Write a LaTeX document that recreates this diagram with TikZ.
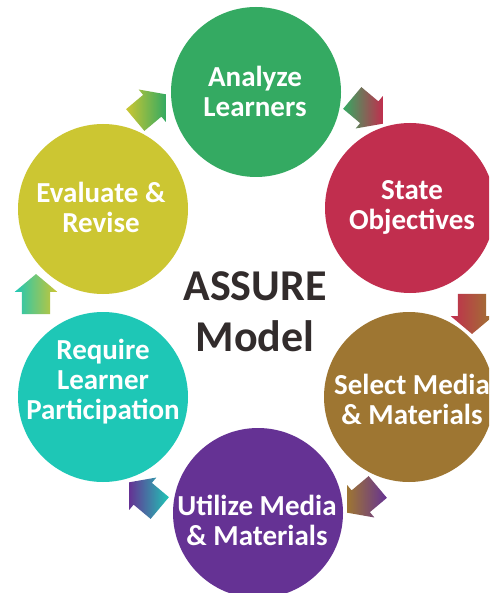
\documentclass[tikz,border=0pt]{standalone}
\usepackage{fontspec}
\setmainfont{Carlito}
\usetikzlibrary{shapes.arrows}

\definecolor{analyzegreen}{RGB}{52,170,98}
\definecolor{statered}{RGB}{193,46,78}
\definecolor{selectbrown}{RGB}{158,118,50}
\definecolor{utilizepurple}{RGB}{101,50,148}
\definecolor{requireteal}{RGB}{30,199,182}
\definecolor{reviseyellow}{RGB}{204,198,50}
\definecolor{modelgray}{RGB}{50,44,44}

\begin{document}
\begin{tikzpicture}[x=1pt,y=-1pt,
    stage/.style={circle,fill=#1,minimum size=170pt,inner sep=0pt},
    stage text/.style={text=white,align=center,font=\fontsize{29}{30}\selectfont\bfseries},
    turn arrow/.style 2 args={single arrow,draw=none,left color=#1,right color=#2,
        minimum height=40pt,inner xsep=0pt,inner ysep=14pt,single arrow head extend=7pt,
        single arrow tip angle=100}]
    \clip (0,0) rectangle (489,593);
    \fill[white] (0,0) rectangle (489,593);

    % the six stages
    \node[stage=analyzegreen] at (256, 92) (analyze) {};
    \node[stage=statered] at (410, 208) (state) {};
    \node[stage=selectbrown] at (409, 397) (select) {};
    \node[stage=utilizepurple] at (258, 513) (utilize) {};
    \node[stage=requireteal] at (103, 397) (require) {};
    \node[stage=reviseyellow] at (103, 209) (revise) {};

    \node[stage text] at (255, 91) (analyze-t) {Analyze\\Learners};
    \node[stage text] at (412, 207) (state-t) {State\\Objectives};
    \node[stage text] at (412, 399) (select-t) {Select Media\\\& Materials};
    \node[stage text] at (257, 520) (utilize-t) {Utilize Media\\\& Materials};
    \node[stage text] at (103, 382) (require-t) {Require\\Learner\\Participation};
    \node[stage text] at (101, 207) (revise-t) {Evaluate \&\\Revise};

    \node[text=modelgray,align=center,font=\fontsize{44}{51}\selectfont\bfseries] at (255, 312) (model) {ASSURE\\Model};

    % arrows round the cycle
    \node[turn arrow={reviseyellow}{analyzegreen}, rotate=40] at (146, 111) (a1) {};
    \node[turn arrow={analyzegreen}{statered}, rotate=-40] at (363, 107) (a2) {};
    \node[turn arrow={statered}{selectbrown}, rotate=-90] at (472, 308) (a3) {};
    \node[turn arrow={selectbrown}{utilizepurple}, rotate=-140] at (367, 496) (a4) {};
    \node[turn arrow={utilizepurple}{requireteal}, rotate=140] at (149, 499) (a5) {};
    \node[turn arrow={requireteal}{reviseyellow}, rotate=90] at (36, 300) (a6) {};
\end{tikzpicture}
\end{document}
